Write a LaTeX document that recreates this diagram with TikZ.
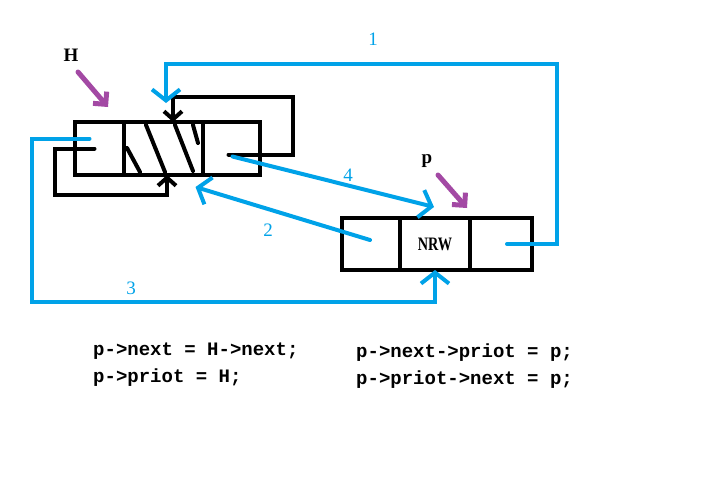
\documentclass[tikz,border=0pt]{standalone}
\usepackage{fontspec}
\setmainfont{Liberation Serif}
\newfontfamily\codefont{Liberation Mono}
\usetikzlibrary{calc, positioning, arrows.meta}
\definecolor{linkblue}{RGB}{0,162,232}
\definecolor{ptrpurple}{RGB}{163,73,164}

\begin{document}
\begin{tikzpicture}[x=1pt, y=-1pt,
    cell/.style={draw, line width=4pt, inner sep=0pt, outer sep=0pt, minimum height=53pt},
    blk/.style={line width=4pt, line cap=round},
    blu/.style={line width=4pt, draw=linkblue, line cap=round},
    pur/.style={line width=5pt, draw=ptrpurple, line cap=round,
        -{Straight Barb[length=9pt, width=18pt]}},
    btip/.style={-{Straight Barb[length=8pt, width=18pt]}},
    ltip/.style={-{Straight Barb[length=11pt, width=28pt]}},
    numlab/.style={text=linkblue, font=\fontsize{19}{19}\selectfont},
    ptrlab/.style={font=\bfseries\fontsize{19}{19}\selectfont},
    code/.style={anchor=base west, inner sep=0pt, font=\codefont\bfseries\fontsize{19}{19}\selectfont}]
    \useasboundingbox (0,0) rectangle (704,487);

    % head node H
    \node[cell, minimum width=49pt] (hprev) at (99.5,148.5) {};
    \node[cell, minimum width=79pt, right=0pt of hprev] (hdata) {};
    \node[cell, minimum width=57pt, right=0pt of hdata] (hnext) {};
    \draw[blk] (127,148) -- (140,172);
    \draw[blk] (146,125) -- (165,172);
    \draw[blk] (175,125) -- (193,171);
    \draw[blk] (193,125) -- (198,143);

    % new node p
    \node[cell, minimum width=58pt, minimum height=52pt] (pprev) at (371,244) {};
    \node[cell, minimum width=70pt, minimum height=52pt, right=0pt of pprev] (pdata)
        {\bfseries\fontsize{19}{19}\selectfont\scalebox{0.75}[1]{NRW}};
    \node[cell, minimum width=62pt, minimum height=52pt, right=0pt of pdata] (pnext) {};

    % pointers
    \node[ptrlab] (hlab) at (71,55) {H};
    \node[ptrlab] (plab) at (427,161) {p};
    \draw[pur] ($(hprev.north east)+(-46,-50)$) -- ($(hprev.north east)+(-16,-15)$);
    \draw[pur] ($(pdata.north east)+(-32,-43)$) -- ($(pdata.north east)+(-3,-10)$);

    % old links of H
    \draw[blk, btip] ($(hnext.center)+(-3,6)$) -| (293,97) -| ($(hdata.north)+(9.5,0)$);
    \draw[blk, btip] ($(hprev.center)+(-5,0)$) -| (55,195) -| ($(hdata.south)+(3.5,0)$);

    % new links
    \draw[blu, ltip] ([xshift=6pt]pnext.center) -| (557,64) -| (166,103);
    \draw[blu, ltip] ($(pprev.center)+(-1,-4)$) -- ($(hdata.south)+(32,12)$);
    \draw[blu, ltip] ($(hprev.center)+(-10,-10)$) -| (32,302) -| (pdata.south);
    \draw[blu, ltip] ($(hnext.center)+(1,8)$) -- ($(pdata.north)+(-1,-11)$);
    \node[numlab] (n1) at (373,39) {1};
    \node[numlab] (n2) at (268,230) {2};
    \node[numlab] (n3) at (131,288) {3};
    \node[numlab] (n4) at (348,175) {4};

    % statements
    \node[code] (s1) at (93,355) {p->next = H->next;};
    \node[code] (s2) at (93,382) {p->priot = H;};
    \node[code] (s3) at (356,357) {p->next->priot = p;};
    \node[code] (s4) at (356,384) {p->priot->next = p;};
\end{tikzpicture}
\end{document}
